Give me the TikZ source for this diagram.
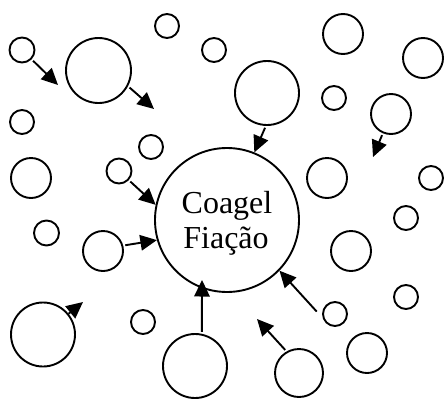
\documentclass[tikz,border=0pt]{standalone}
\usepackage{fontspec}
\setmainfont{Liberation Serif}
\usetikzlibrary{arrows.meta}
\begin{document}
\begin{tikzpicture}[x=1pt,y=-1pt,
  bub/.style={circle,draw,line width=1.9pt,inner sep=0pt,minimum size=#1},
  arr/.style={line width=1.9pt,-{Triangle[length=16.5pt,width=15.5pt]},shorten <=2pt},
  lbl/.style={font=\fontsize{32}{35}\selectfont,anchor=base,inner sep=0pt}]
\useasboundingbox (0,0) rectangle (446,399);
\node[bub=25pt] (a1) at (22,50) {};
\node[bub=65pt] (a2) at (98.5,70.5) {};
\node[bub=24pt] (a3) at (167,26) {};
\node[bub=24pt] (a4) at (214,50) {};
\node[bub=40pt] (a5) at (343,34) {};
\node[bub=40pt] (a6) at (423,58) {};
\node[bub=64pt] (a7) at (267,93) {};
\node[bub=24pt] (a8) at (334,98) {};
\node[bub=40pt] (a9) at (391,114) {};
\node[bub=24pt] (a10) at (22,122) {};
\node[bub=24pt] (a11) at (151,147) {};
\node[bub=40pt] (a12) at (31,178) {};
\node[bub=25pt] (a13) at (119,171) {};
\node[bub=40pt] (a14) at (327,178) {};
\node[bub=24pt] (a15) at (431,178) {};
\node[bub=25pt] (a16) at (46.5,233) {};
\node[bub=40pt] (a17) at (103,251) {};
\node[bub=24pt] (a18) at (406,218) {};
\node[bub=40pt] (a19) at (351,251) {};
\node[bub=64pt] (a20) at (43,334.5) {};
\node[bub=24pt] (a21) at (143,322) {};
\node[bub=24pt] (a22) at (406,297) {};
\node[bub=24pt] (a23) at (335,314) {};
\node[bub=64pt] (a24) at (195,366) {};
\node[bub=40pt] (a25) at (367,353) {};
\node[bub=48pt] (a26) at (299,373) {};
\node[bub=144pt] (main) at (227,220) {};
\node[lbl] (t1) at (227,213) {Coagel};
\node[lbl] (t2) at (226,248) {Fiação};
\coordinate (tA) at (58,85);
\coordinate (tB) at (154,109);
\coordinate (tE) at (373,157);
\coordinate (tG) at (83,302);
\coordinate (tH) at (202,280);
\coordinate (tI) at (257,319);
\draw[arr] (a1) -- (tA);
\draw[arr] (a2.-28) -- (tB);
\draw[arr] (a13.-43) -- (main.168);
\draw[arr] (a7.-92) -- (main.68);
\draw[arr] (a9.-113) -- (tE);
\draw[arr] (a17.15) -- (main.-164);
\draw[arr,shorten <=0pt] (a20) -- (tG);
\draw[arr] (a24.78) -- (tH);
\draw[arr] (a26.120) -- (tI);
\draw[arr,shorten <=9pt] (a23.-161) -- (main.-44);
\end{tikzpicture}
\end{document}
